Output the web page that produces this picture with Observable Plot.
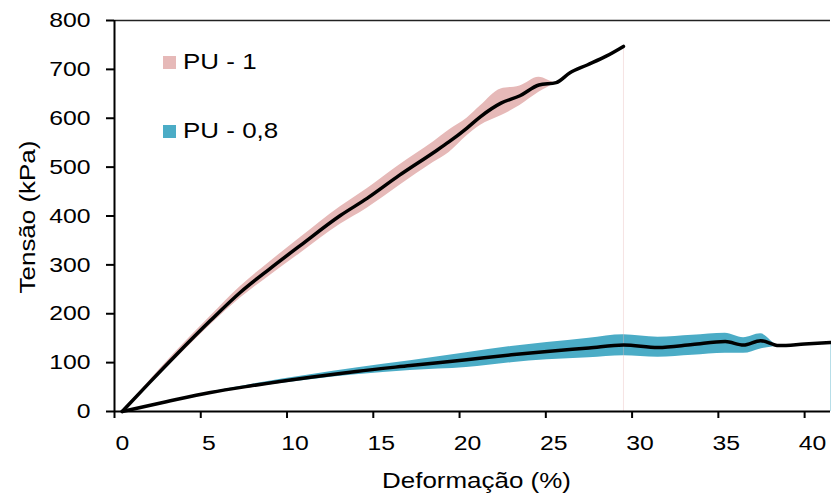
<!DOCTYPE html>
<html>
<head>
<meta charset="utf-8">
<script src="https://cdn.jsdelivr.net/npm/d3@7"></script>
<script src="https://cdn.jsdelivr.net/npm/@observablehq/plot@0.6"></script>
<style>
  html, body { margin: 0; padding: 0; background: #fff; }
  #wrap { position: relative; width: 831px; height: 498px; font-family: "Liberation Sans", Arial, sans-serif; }
  .leg { position: absolute; display: flex; align-items: center; font-size: 22px; color: #000; }
  .leg .sw { width: 13px; height: 13px; margin-right: 7px; }
  .leg .tx { display: inline-block; transform: scaleX(1.18); transform-origin: left center; white-space: nowrap; }
</style>
</head>
<body>
<div id="wrap"></div>
<script>
// PU - 1 (mean curve and band)
const strain1 = [0.45, 2, 3.5, 5.56, 7.3, 9, 10.78, 13.09, 14.64, 16.5, 18.5, 19.4, 20.43, 21.2, 22.4, 23.5, 24.6, 25.6, 26.4, 27.4, 28.5, 29.5];
const mean1   = [0, 58, 113, 186, 244, 292, 340, 401, 436, 483, 530, 552, 580, 603, 631, 646, 668, 673, 693, 709, 727, 747];
const upper1  = [0, 62, 120, 195, 256, 306, 356, 419, 456, 504, 552, 576, 600, 625, 660, 666, 684, 673, 693, 709, 727, 747];
const lower1  = [0, 54, 106, 177, 232, 278, 324, 383, 416, 462, 510, 530, 564, 585, 605, 626, 653, 673, 693, 709, 727, 747];

// PU - 0,8 (mean curve and band)
const strain2 = [0.45, 3, 5.56, 8, 11.36, 14, 17.15, 20.4, 23, 25.07, 27.5, 29.51, 31.5, 33.5, 35.4, 36.46, 37.45, 38.5, 40, 41.5];
const mean2   = [0, 20, 39, 53, 70, 82, 94, 106, 116, 123, 130, 136, 131, 137, 143, 136, 145, 135, 138, 141];
const upper2  = [0, 20, 40, 56, 75, 89, 104, 120, 133, 141, 150, 157, 152, 156, 160, 151, 159, 136, 138, 141];
const lower2  = [0, 20, 39, 50, 65, 75, 84, 90, 100, 106, 110, 114, 111, 115, 119, 119, 128, 134, 138, 141];

const xTicks = [0, 5, 10, 15, 20, 25, 30, 35, 40];
const yTicks = [0, 100, 200, 300, 400, 500, 600, 700, 800];
const seriesNames = ["PU - 1", "PU - 0,8"];
const seriesColors = ["#e6b9b8", "#4bacc6"];
const xLabel = "Deformação (%)";
const yLabel = "Tensão (kPa)";

const rows1 = strain1.map((x, i) => ({x, m: mean1[i], lo: lower1[i], hi: upper1[i]}));
const rows2 = strain2.map((x, i) => ({x, m: mean2[i], lo: lower2[i], hi: upper2[i]}));
const curve = "monotone-x";
const STRETCH = 1.18;

const svg = Plot.plot({
  width: 831,
  height: 498,
  marginLeft: 114,
  marginRight: 1,
  marginTop: 20,
  marginBottom: 87,
  style: {fontFamily: "'Liberation Sans', Arial, sans-serif", color: "#000", background: "#fff"},
  x: {domain: [0, 41.5], label: null},
  y: {domain: [0, 800], label: null},
  marks: [
    Plot.areaY(rows1, {x: "x", y1: "lo", y2: "hi", fill: seriesColors[0], curve}),
    Plot.areaY(rows2, {x: "x", y1: "lo", y2: "hi", fill: seriesColors[1], curve}),
    Plot.ruleX([rows1[rows1.length - 1]], {x: "x", y1: 0, y2: "m", stroke: seriesColors[0], strokeOpacity: 0.4, strokeWidth: 1}),
    Plot.ruleX([rows2[rows2.length - 1]], {x: "x", y1: 0, y2: "m", stroke: seriesColors[1], strokeOpacity: 0.4, strokeWidth: 1}),
    Plot.line(rows1, {x: "x", y: "m", stroke: "#000", strokeWidth: 3.5, curve}),
    Plot.line(rows2, {x: "x", y: "m", stroke: "#000", strokeWidth: 3.5, curve}),
    Plot.ruleY([yTicks[yTicks.length - 1]], {stroke: "#222", strokeWidth: 1.5}),
    Plot.ruleX([0], {stroke: "#000", strokeWidth: 2}),
    Plot.ruleY([0], {stroke: "#000", strokeWidth: 2}),
    Plot.axisY({ticks: yTicks, tickSize: 8, tickPadding: 16, fontSize: 21, strokeWidth: 2, label: null}),
    Plot.axisX({ticks: xTicks, tickSize: 7, strokeWidth: 2, tickFormat: () => "", label: null}),
    Plot.axisX({ticks: xTicks, tickSize: 0, tickPadding: 24, dx: 8, fontSize: 21, label: null}),
    Plot.text([xLabel], {text: d => d, frameAnchor: "bottom", textAnchor: "middle", lineAnchor: "middle", dy: 69, dx: 4, fontSize: 22, fill: "#000"}),
    Plot.text([yLabel], {text: d => d, frameAnchor: "left", textAnchor: "middle", lineAnchor: "middle", rotate: -90, dx: -87, dy: 1, fontSize: 22, fill: "#000"})
  ]
});

const wrap = document.getElementById("wrap");
wrap.appendChild(svg);

// Stretch text glyphs along their reading direction, around each text's anchor
const NS = "http://www.w3.org/2000/svg";
Array.from(svg.querySelectorAll("text")).forEach(t => {
  const g = document.createElementNS(NS, "g");
  t.parentNode.insertBefore(g, t);
  g.appendChild(t);
  const r = t.getBoundingClientRect();
  const inv = g.getScreenCTM().inverse();
  const toLocal = (sx, sy) => {
    const p = svg.createSVGPoint(); p.x = sx; p.y = sy;
    return p.matrixTransform(inv);
  };
  const len = (t.textContent || "").length;
  const rotated = len > 2 && r.height > r.width * 2;
  if (rotated) {
    const c = toLocal(r.left + r.width / 2, r.top + r.height / 2);
    g.setAttribute("transform", `translate(0,${c.y}) scale(1,${STRETCH}) translate(0,${-c.y})`);
  } else {
    const anchor = getComputedStyle(t).textAnchor;
    const sx = anchor === "end" ? r.right : anchor === "middle" ? r.left + r.width / 2 : r.left;
    const c = toLocal(sx, r.top);
    g.setAttribute("transform", `translate(${c.x},0) scale(${STRETCH},1) translate(${-c.x},0)`);
  }
});

const legTops = [52, 121];
seriesNames.forEach((name, i) => {
  const d = document.createElement("div");
  d.className = "leg";
  d.style.left = "163px";
  d.style.top = legTops[i] + "px";
  d.style.height = "20px";
  const sw = document.createElement("span");
  sw.className = "sw";
  sw.style.background = seriesColors[i];
  const tx = document.createElement("span");
  tx.className = "tx";
  tx.textContent = name;
  d.appendChild(sw);
  d.appendChild(tx);
  wrap.appendChild(d);
});
</script>
</body>
</html>
